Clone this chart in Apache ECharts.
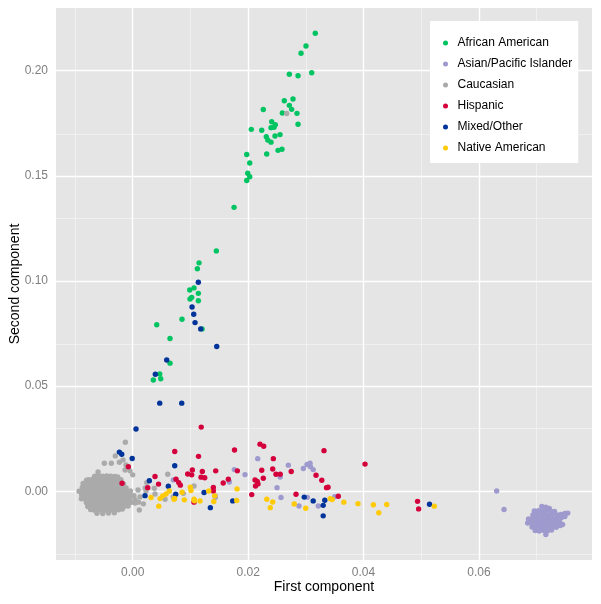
<!DOCTYPE html>
<html><head><meta charset="utf-8">
<script src="https://cdn.jsdelivr.net/npm/echarts@6/dist/echarts.min.js"></script>
<style>html,body{margin:0;padding:0;background:#fff}#c{width:601px;height:604px}</style>
</head><body><div id="c"></div>
<script>
const groups = ['African American','Asian/Pacific Islander','Caucasian','Hispanic','Mixed/Other','Native American'];
const groupColors = ['#00C462','#9E9ACE','#AAAAAA','#D4003C','#00349A','#FFCA08'];

const xMajorTicks = [0, 0.02, 0.04, 0.06];
const xMinorTicks = [-0.01, 0.01, 0.03, 0.05, 0.07];
const yMajorTicks = [0, 0.05, 0.10, 0.15, 0.20];
const yMinorTicks = [-0.025, 0.025, 0.075, 0.125, 0.175, 0.225];

const africanAmerican = [
[0.03164,0.2178],[0.03003,0.2117],[0.02917,0.2083],[0.02714,0.1983],[0.02865,0.1976],[0.03102,0.1990],
[0.02627,0.1857],[0.02778,0.1865],[0.02714,0.1835],[0.02755,0.1816],[0.02263,0.1815],[0.02593,0.1799],
[0.02847,0.1797],[0.02865,0.1745],[0.02409,0.1757],[0.02471,0.1743],[0.02397,0.1729],[0.02449,0.1731],
[0.02236,0.1717],[0.02055,0.1721],[0.02315,0.1686],[0.02466,0.1689],[0.02553,0.1696],[0.02340,0.1670],
[0.02397,0.1660],[0.02518,0.1621],[0.02587,0.1626],[0.02322,0.1604],[0.01976,0.1601],[0.02028,0.1561],
[0.01993,0.1512],[0.02028,0.1496],[0.01976,0.1478],[0.01756,0.1350],[0.01449,0.1143],[0.01149,0.1086],
[0.01120,0.1058],[0.01062,0.0967],[0.00988,0.0957],[0.01137,0.0941],[0.01022,0.0922],[0.00993,0.0914],
[0.01137,0.0906],[0.00854,0.0818],[0.00416,0.0792],[0.01201,0.0772],[0.00646,0.0726],[0.00646,0.0609],
[0.00468,0.0558],[0.00357,0.0529],[0.00485,0.0535]
];

const asianPacific = [
[0.01761,0.0103],[0.01946,0.0079],[0.00704,0.0054],[0.02166,0.0155],[0.02697,0.0124],[0.02957,0.0108],
[0.03021,0.0127],[0.03073,0.0133],[0.03081,0.0117],[0.03128,0.0103],[0.02556,0.0068],[0.01674,0.0044],
[0.02501,0.0017],[0.02570,-0.0030],[0.03026,-0.0029],[0.02882,-0.0070],[0.03216,-0.0070],[0.03502,-0.0026],
[0.01432,-0.0029],[0.06308,0.0001],[0.06435,-0.0087],
[0.0709,-0.0072],[0.0716,-0.0076],[0.0722,-0.0082],
[0.0696,-0.0094],[0.0703,-0.0092],[0.0710,-0.0094],[0.0717,-0.0091],[0.0724,-0.0094],[0.0731,-0.0096],
[0.06935,-0.0113],[0.07005,-0.0111],[0.07075,-0.0113],[0.07145,-0.0112],[0.07215,-0.0113],[0.07285,-0.0111],[0.07355,-0.0113],[0.0742,-0.0110],[0.0749,-0.0106],[0.0754,-0.0104],
[0.0686,-0.0132],[0.0693,-0.0130],[0.0700,-0.0132],[0.0707,-0.0131],[0.0714,-0.0132],[0.0721,-0.0130],[0.0728,-0.0132],[0.0735,-0.0131],[0.0743,-0.0125],[0.0749,-0.0120],
[0.06845,-0.0151],[0.06915,-0.0149],[0.06985,-0.0151],[0.07055,-0.0150],[0.07125,-0.0151],[0.07195,-0.0149],[0.07265,-0.0151],[0.07335,-0.0150],[0.0740,-0.0146],
[0.0692,-0.0170],[0.0699,-0.0168],[0.0706,-0.0170],[0.0713,-0.0169],[0.0720,-0.0170],[0.0727,-0.0168],[0.0734,-0.0171],[0.0741,-0.0163],[0.0745,-0.0158],
[0.06975,-0.0187],[0.07045,-0.0189],[0.07115,-0.0186],[0.07185,-0.0189],[0.0726,-0.0184],[0.0716,-0.0206]
];

const caucasian = [
[0.02669,0.1796],
[-0.00128,0.0233],[-0.00302,0.0168],[-0.00492,0.0133],[-0.00371,0.0133],[-0.00232,0.0138],[-0.00168,0.0149],
[-0.00116,0.0125],[-0.00133,0.0101],[-0.00047,0.0097],[0.00000,0.0078],[-0.00601,0.0092],[0.00607,0.0081],
[0.00243,0.0041],[0.00374,0.0014],[0.00230,0.0001],[0.00184,-0.0060],[0.00114,-0.0089],[0.00560,-0.0038],
[0.01062,0.0025],[0.01432,-0.0022],[0.00386,-0.0013],[0.00092,0.0006],[0.00126,-0.0027],[0.00877,-0.0010],
[0.00704,-0.0026],[0.00218,0.0016],
[-0.0066,0.0072],[-0.0059,0.0074],[-0.0052,0.0071],[-0.0045,0.0073],[-0.0038,0.0072],[-0.0031,0.0070],[-0.0026,0.0068],
[-0.00765,0.0055],[-0.00695,0.0057],[-0.00625,0.0055],[-0.00555,0.0056],[-0.00485,0.0054],[-0.00415,0.0056],[-0.00345,0.0055],[-0.00275,0.0053],[-0.00205,0.0055],[-0.0080,0.0052],
[-0.0086,0.0037],[-0.0079,0.0036],[-0.0072,0.0038],[-0.0065,0.0037],[-0.0058,0.0036],[-0.0051,0.0038],[-0.0044,0.0037],[-0.0037,0.0036],[-0.0030,0.0038],[-0.0023,0.0037],[-0.0016,0.0035],
[-0.00875,0.0018],[-0.00805,0.0019],[-0.00735,0.0017],[-0.00665,0.0018],[-0.00595,0.0019],[-0.00525,0.0017],[-0.00455,0.0018],[-0.00385,0.0019],[-0.00315,0.0017],[-0.00245,0.0018],[-0.00175,0.0019],[-0.00115,0.0016],
[-0.0093,0.0000],[-0.0087,0.0001],[-0.0080,-0.0001],[-0.0073,0.0000],[-0.0066,0.0001],[-0.0059,-0.0001],[-0.0052,0.0000],[-0.0045,0.0001],[-0.0038,-0.0001],[-0.0031,0.0000],[-0.0024,0.0001],[-0.0017,-0.0001],[-0.0010,0.0000],[-0.0004,0.0001],
[-0.00885,-0.0018],[-0.00815,-0.0017],[-0.00745,-0.0019],[-0.00675,-0.0018],[-0.00605,-0.0017],[-0.00535,-0.0019],[-0.00465,-0.0018],[-0.00395,-0.0017],[-0.00325,-0.0019],[-0.00255,-0.0018],[-0.00185,-0.0017],[-0.00115,-0.0019],[-0.00045,-0.0018],[0.00020,-0.0021],
[-0.0089,-0.0036],[-0.0082,-0.0037],[-0.0075,-0.0035],[-0.0068,-0.0036],[-0.0061,-0.0037],[-0.0054,-0.0035],[-0.0047,-0.0036],[-0.0040,-0.0037],[-0.0033,-0.0035],[-0.0026,-0.0036],[-0.0019,-0.0037],[-0.0012,-0.0035],[-0.0005,-0.0036],[0.0004,-0.0040],
[-0.00805,-0.0054],[-0.00735,-0.0055],[-0.00665,-0.0053],[-0.00595,-0.0054],[-0.00525,-0.0055],[-0.00455,-0.0053],[-0.00385,-0.0054],[-0.00315,-0.0055],[-0.00245,-0.0053],[-0.00175,-0.0054],[-0.00105,-0.0055],[-0.00035,-0.0053],[0.0004,-0.0056],[0.0010,-0.0052],
[-0.0078,-0.0072],[-0.0071,-0.0073],[-0.0064,-0.0071],[-0.0057,-0.0072],[-0.0050,-0.0073],[-0.0043,-0.0071],[-0.0036,-0.0072],[-0.0029,-0.0073],[-0.0022,-0.0071],[-0.0015,-0.0072],[-0.0008,-0.0070],
[-0.00665,-0.0090],[-0.00595,-0.0089],[-0.00525,-0.0091],[-0.00455,-0.0090],[-0.00385,-0.0089],[-0.00315,-0.0091],[-0.00245,-0.0088],[-0.0018,-0.0085],[-0.0073,-0.0087],
[-0.0062,-0.0105],[-0.0052,-0.0106],[-0.0042,-0.0104],[-0.0032,-0.0102]
];

const hispanic = [
[0.01187,0.0305],[0.00728,0.0189],[0.01140,0.0166],[0.01764,0.0196],[0.02206,0.0224],[0.02270,0.0214],
[0.03315,0.0193],[0.04026,0.0129],[0.02437,0.0155],[0.02236,0.0100],[0.02426,0.0106],[0.02747,0.0094],
[0.02483,0.0081],[0.02556,0.0081],[0.03177,0.0076],[0.03277,0.0052],[0.03385,0.0019],[0.03359,0.0017],
[0.02263,0.0062],[0.02120,0.0054],[0.02158,0.0047],[0.02128,0.0025],[0.02171,0.0035],[0.02830,-0.0014],
[0.02062,-0.0016],[0.03563,-0.0024],[0.04936,-0.0048],[0.04955,-0.0084],[0.01033,0.0101],[0.01206,0.0094],
[0.01438,0.0097],[0.00953,0.0082],[0.01022,0.0078],[0.01184,0.0067],[0.01248,0.0064],[0.01813,0.0097],
[0.01657,0.0057],[0.01568,0.0039],[0.00386,0.0070],[0.00750,0.0057],[0.00447,0.0034],[0.00797,0.0041],
[0.00825,0.0029],[0.00260,0.0017],[0.01397,0.0018],[0.01397,0.0001],[0.01062,-0.0052],[-0.00076,0.0117],
[-0.00185,0.0038]
];

const mixedOther = [
[0.01137,0.0994],[0.01028,0.0876],[0.01057,0.0842],[0.01080,0.0802],[0.01178,0.0772],[0.01456,0.0688],
[0.00589,0.0624],[0.00392,0.0556],[0.00468,0.0419],[0.00849,0.0419],[0.00057,0.0296],[-0.00232,0.0186],
[-0.00191,0.0176],[-0.00009,0.0156],[0.00728,0.0121],[0.00288,0.0050],[0.00617,0.0024],[0.00213,-0.0021],
[0.00745,-0.0014],[0.01236,-0.0006],[0.01345,-0.0078],[0.01733,-0.0046],[0.02972,-0.0028],[0.03128,-0.0046],
[0.03301,-0.0067],[0.03329,-0.0043],[0.03301,-0.0117],[0.05144,-0.0062]
];

const nativeAmerican = [
[0.00634,0.0001],[0.00577,-0.0013],[0.00520,-0.0022],[0.00854,-0.0005],[0.01317,0.0001],[0.01010,0.0003],
[0.00998,0.0019],[0.00317,-0.0030],[0.00473,-0.0035],[0.00716,-0.0038],[0.00894,-0.0041],[0.01062,-0.0038],
[0.01166,-0.0046],[0.01404,-0.0049],[0.01421,-0.0022],[0.01808,0.0011],[0.01802,-0.0044],[0.00451,-0.0071],
[0.02324,-0.0038],[0.02426,-0.0051],[0.02383,-0.0078],[0.02799,-0.0061],[0.02998,-0.0081],[0.03422,-0.0035],
[0.03457,-0.0039],[0.03659,-0.0052],[0.03904,-0.0059],[0.04170,-0.0064],[0.04265,-0.0102],[0.04402,-0.0063],
[0.05227,-0.0071],[0.00726,-0.0034],[0.01070,-0.0045]
];

const seriesData = [africanAmerican, asianPacific, caucasian, hispanic, mixedOther, nativeAmerican];

const chart = echarts.init(document.getElementById('c'), null, {renderer: 'canvas'});
const gridMarks = [].concat(
  xMinorTicks.map(v => ({xAxis: v, lineStyle: {color: '#F2F2F2', width: 0.8, type: 'solid'}})),
  yMinorTicks.map(v => ({yAxis: v, lineStyle: {color: '#F2F2F2', width: 0.8, type: 'solid'}})),
  xMajorTicks.map(v => ({xAxis: v, lineStyle: {color: '#FFFFFF', width: 1.4, type: 'solid'}})),
  yMajorTicks.map(v => ({yAxis: v, lineStyle: {color: '#FFFFFF', width: 1.4, type: 'solid'}}))
);
const labelColor = '#7F7F7F';
const fam = 'Liberation Sans, Arial, sans-serif';
const option = {
  animation: false,
  backgroundColor: '#FFFFFF',
  textStyle: {fontFamily: fam},
  grid: {left: 56, right: 9, top: 8, bottom: 44, show: true, backgroundColor: '#E5E5E5', borderWidth: 0,
         containLabel: false, outerBoundsMode: 'none'},
  xAxis: {
    type: 'value', min: -0.0133, max: 0.0796,
    name: 'First component', nameLocation: 'middle', nameGap: 20, nameMoveOverlap: false,
    nameTextStyle: {fontSize: 14, color: '#000000', fontFamily: fam},
    axisLine: {show: false},
    axisTick: {show: true, customValues: xMajorTicks, length: 4, lineStyle: {color: labelColor, width: 1}},
    axisLabel: {customValues: xMajorTicks, formatter: v => v.toFixed(2), color: labelColor, fontSize: 12, margin: 7},
    splitLine: {show: false}
  },
  yAxis: {
    type: 'value', min: -0.0327, max: 0.2298,
    name: 'Second component', nameLocation: 'middle', nameGap: 34, nameRotate: 90, nameMoveOverlap: false,
    nameTextStyle: {fontSize: 14, color: '#000000', fontFamily: fam},
    axisLine: {show: false},
    axisTick: {show: true, customValues: yMajorTicks, length: 4, lineStyle: {color: labelColor, width: 1}},
    axisLabel: {customValues: yMajorTicks, formatter: v => v.toFixed(2), color: labelColor, fontSize: 12, margin: 8},
    splitLine: {show: false}
  },
  legend: {
    data: groups, orient: 'vertical', left: 430, top: 21,
    backgroundColor: '#FFFFFF', padding: [16, 6, 9, 13],
    icon: 'circle', itemWidth: 14, itemHeight: 5, itemGap: 9,
    textStyle: {fontSize: 12, color: '#000000', fontFamily: fam}
  },
  series: [
    {type: 'scatter', name: '_grid', data: [], z: 1, silent: true,
     markLine: {silent: true, symbol: ['none','none'], label: {show: false}, z: 1, animation: false, data: gridMarks}}
  ].concat(groups.map((g, i) => ({
    type: 'scatter', name: g, data: seriesData[i], symbolSize: 5.4, z: 3,
    itemStyle: {color: groupColors[i], opacity: 1}
  })))
};
chart.setOption(option);
</script></body></html>
